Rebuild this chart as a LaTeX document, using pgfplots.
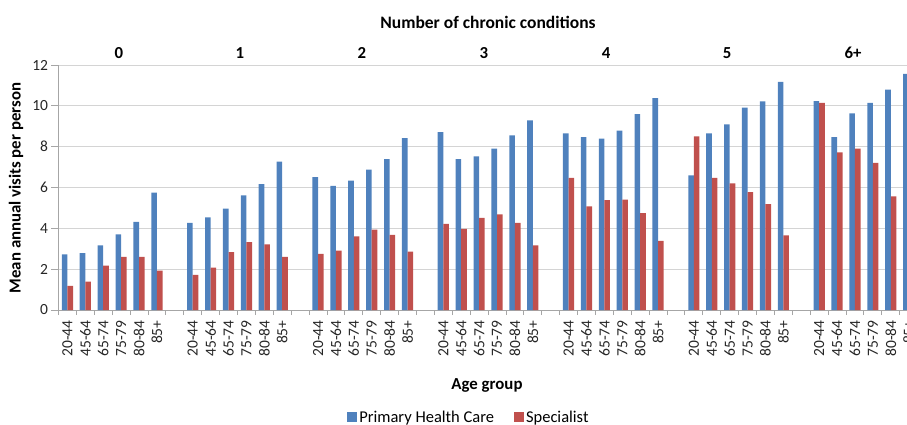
\documentclass[border=0pt]{standalone}
\usepackage{fontspec}
\setmainfont{Carlito}
\usepackage{pgfplots}
\pgfplotsset{compat=1.18}

\definecolor{phc}{HTML}{4F81BD}
\definecolor{spec}{HTML}{C0504D}
\definecolor{gridgray}{HTML}{D4D4D4}
\definecolor{axisgray}{HTML}{A6A6A6}
\definecolor{ticktext}{HTML}{262626}

\newcommand{\tickfont}{\fontsize{15.5pt}{16pt}\selectfont}
\newcommand{\labfont}{\fontsize{16.8pt}{18pt}\selectfont\bfseries}

\begin{document}
\begin{tikzpicture}
\path[use as bounding box, clip] (0pt,0pt) rectangle (907pt,424pt);

\begin{axis}[
  at={(58.5pt,114pt)}, anchor=south west,
  scale only axis, width=877pt, height=245pt,
  xmin=-0.5, xmax=48.5, ymin=0, ymax=12,
  ybar=0pt, bar width=5.6pt,
  axis lines*=left,
  axis line style={draw=axisgray, line width=0.9pt, -},
  ymajorgrids, grid style={draw=gridgray, line width=1pt},
  tick align=outside,
  major tick length=7pt, minor tick length=5pt,
  ytick={0,2,...,12},
  xtick={0,1,2,3,4,5,7,8,9,10,11,12,14,15,16,17,18,19,21,22,23,24,25,26,28,29,30,31,32,33,35,36,37,38,39,40,42,43,44,45,46,47},
  xticklabels={20-44,45-64,65-74,75-79,80-84,85+,20-44,45-64,65-74,75-79,80-84,85+,20-44,45-64,65-74,75-79,80-84,85+,20-44,45-64,65-74,75-79,80-84,85+,20-44,45-64,65-74,75-79,80-84,85+,20-44,45-64,65-74,75-79,80-84,85+,20-44,45-64,65-74,75-79,80-84,85+},
  minor xtick={-0.5,0.5,...,48.5},
  major x tick style={draw=none},
  minor x tick style={draw=axisgray, line width=0.9pt},
  y tick style={draw=axisgray, line width=0.9pt},
  x tick label style={rotate=90, anchor=east, font=\tickfont, text=ticktext},
  y tick label style={font=\tickfont, text=ticktext},
  /pgf/number format/assume math mode=true,
  legend columns=2,
  legend style={at={(0.468,-0.437)}, anchor=center, draw=none, fill=none,
    font=\fontsize{16.5pt}{17pt}\selectfont,
    /tikz/every even column/.append style={column sep=18pt}},
  legend image code/.code={\fill[#1] (0pt,-5pt) rectangle (10pt,5pt);},
]

% Primary Health Care
\addplot[fill=phc, draw=none] coordinates {
  (0,2.73) (1,2.78) (2,3.17) (3,3.71) (4,4.32) (5,5.75)
  (7,4.27) (8,4.54) (9,4.97) (10,5.61) (11,6.16) (12,7.27)
  (14,6.51) (15,6.08) (16,6.34) (17,6.87) (18,7.39) (19,8.42)
  (21,8.71) (22,7.39) (23,7.52) (24,7.91) (25,8.55) (26,9.29)
  (28,8.65) (29,8.47) (30,8.39) (31,8.78) (32,9.60) (33,10.38)
  (35,6.59) (36,8.65) (37,9.09) (38,9.91) (39,10.22) (40,11.17)
  (42,10.23) (43,8.47) (44,9.63) (45,10.14) (46,10.79) (47,11.56)
};
\addlegendentry{Primary Health Care}

% Specialist
\addplot[fill=spec, draw=none] coordinates {
  (0,1.18) (1,1.39) (2,2.17) (3,2.60) (4,2.60) (5,1.93)
  (7,1.72) (8,2.08) (9,2.83) (10,3.33) (11,3.22) (12,2.60)
  (14,2.75) (15,2.91) (16,3.61) (17,3.94) (18,3.68) (19,2.86)
  (21,4.22) (22,3.97) (23,4.51) (24,4.68) (25,4.27) (26,3.17)
  (28,6.47) (29,5.07) (30,5.38) (31,5.41) (32,4.74) (33,3.38)
  (35,8.50) (36,6.47) (37,6.20) (38,5.77) (39,5.18) (40,3.65)
  (42,10.14) (43,7.72) (44,7.90) (45,7.21) (46,5.56) (47,3.90)
};
\addlegendentry{Specialist}

\end{axis}

% titles and group labels
\node[font=\fontsize{17.5pt}{18pt}\selectfont\bfseries] at (488pt,402pt) {Number of chronic conditions};
\foreach \gx/\gl in {119/0,240/1,362/2,484/3,606/4,727/5,853/6+}
  \node[font=\labfont] at (\gx pt,371pt) {\gl};
\node[font=\labfont, rotate=90] at (16pt,236pt) {Mean annual visits per person};
\node[font=\labfont] at (487pt,39pt) {Age group};
\end{tikzpicture}
\end{document}
